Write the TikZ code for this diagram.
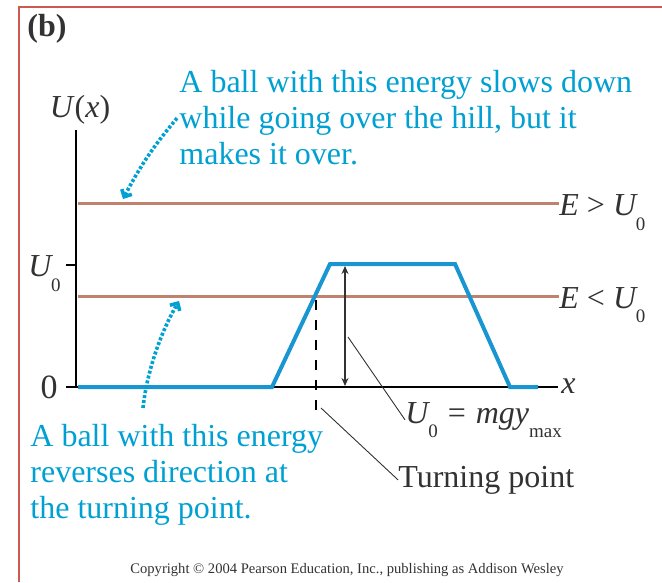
\documentclass[tikz,border=0pt]{standalone}
\usepackage{fontspec}
\setmainfont{Liberation Serif}
\usepackage{xcolor}
\definecolor{balltext}{RGB}{0,160,210}
\definecolor{hillblue}{RGB}{25,150,210}
\definecolor{energybrown}{RGB}{190,130,110}
\definecolor{framered}{RGB}{205,90,80}
\definecolor{labelgray}{RGB}{50,50,50}
\usetikzlibrary{arrows.meta}
\newcommand{\lowsub}[1]{\raisebox{-0.45em}{\fontsize{9.5}{10}\selectfont #1}}

\begin{document}
\begin{tikzpicture}[x=0.5pt,y=-0.5pt,
  note/.style={text=balltext, font=\fontsize{16}{18}\selectfont, align=left, inner sep=0pt},
  axlabel/.style={text=labelgray, font=\fontsize{16}{18}\selectfont, inner sep=0pt},
  axis/.style={draw=black, line width=0.8pt},
  energy/.style={draw=energybrown, line width=1.5pt},
  hill/.style={draw=hillblue, line width=2pt, line join=miter},
  leader/.style={draw=labelgray, line width=0.45pt},
  turndash/.style={draw=black, line width=0.8pt, dash pattern=on 5pt off 5pt},
  heightarrow/.style={draw=labelgray, line width=0.6pt, {Stealth[length=4pt,width=3.5pt]}-{Stealth[length=4pt,width=3.5pt]}},
  notearrow/.style={draw=balltext, line width=1.8pt, dash pattern=on 1.5pt off 1pt, -{Straight Barb[angle=90:4pt]}}
]
  \useasboundingbox (0,0) rectangle (662,582);

  % frame and panel letter
  \draw[framered, line width=1pt] (662,7) -- (19,7) -- (19,582);
  \node[axlabel, font=\fontsize{16}{18}\selectfont\bfseries, anchor=base west] (panel) at (27,37) {(b)};

  % axes
  \coordinate (ytop) at (76,130);
  \coordinate (origin) at (76,387);
  \coordinate (xend) at (558,387);
  \draw[axis] (ytop) -- (origin) -- (xend);
  \draw[axis] (66,265) -- (76,265);
  \draw[axis] (66,387) -- (76,387);
  \node[axlabel] (ulabel) at (80,110) {\textit{U}(\textit{x})};
  \node[axlabel, anchor=base east] (uzero) at (61,277) {\textit{U}\kern-1pt\lowsub{0}};
  \node[axlabel, font=\fontsize{17}{20}\selectfont, anchor=base east] (zero) at (58,398) {0};
  \node[axlabel, anchor=base west] (xlabel) at (561,393) {\textit{x}};

  % energy levels
  \node[axlabel, anchor=base west] (Egt) at (559,216) {\textit{E} > \textit{U}\kern-1pt\lowsub{0}};
  \node[axlabel, anchor=base west] (Elt) at (559,308) {\textit{E} < \textit{U}\kern-1pt\lowsub{0}};
  \coordinate (egtstart) at (78,204);
  \coordinate (eltstart) at (78,296);
  \draw[energy] (egtstart) -- (egtstart -| Egt.west);
  \draw[energy] (eltstart) -- (eltstart -| Elt.west);

  % the hill
  \draw[hill] (78,387) -- (272,387) -- (330,264) -- (455,264) -- (510,387) -- (538,387);

  % turning point and height
  \coordinate (turn) at (316,300);
  \coordinate (turnfoot) at (316,412);
  \draw[turndash] (turn) -- (turnfoot);
  \coordinate (hilltop) at (345,266);
  \coordinate (hillbase) at (345,386);
  \draw[heightarrow] (hilltop) -- (hillbase);

  \node[axlabel, anchor=base west] (Ueq) at (405,423) {\textit{U}\kern-1pt\lowsub{0}\kern5pt=\kern5pt\textit{mgy}\lowsub{max}};
  \coordinate (hmid) at (348,337);
  \draw[leader] (hmid) -- (Ueq.west);
  \node[axlabel, anchor=base west] (tplabel) at (398,487) {Turning point};
  \coordinate (tpstart) at (321,408);
  \draw[leader] (tpstart) -- (tplabel.west);

  % notes
  \node[note, anchor=base west] (topnote) at (179,165) {A ball with this energy slows down\\while going over the hill, but it\\makes it over.};
  \coordinate (aboveend) at (123,199);
  \draw[notearrow] ([xshift=-1pt]topnote.west) to[bend right=6] (aboveend);

  \node[note, anchor=base west] (botnote) at (30,518) {A ball with this energy\\reverses direction at\\the turning point.};
  \coordinate (belowstart) at (143,408);
  \coordinate (belowend) at (179,301);
  \draw[notearrow] (belowstart) .. controls (147,370) and (162,330) .. (belowend);

  \node[text=labelgray, font=\fontsize{7.3}{8}\selectfont] (copyright) at (347,570) {Copyright © 2004 Pearson Education, Inc., publishing as Addison Wesley};
\end{tikzpicture}
\end{document}
